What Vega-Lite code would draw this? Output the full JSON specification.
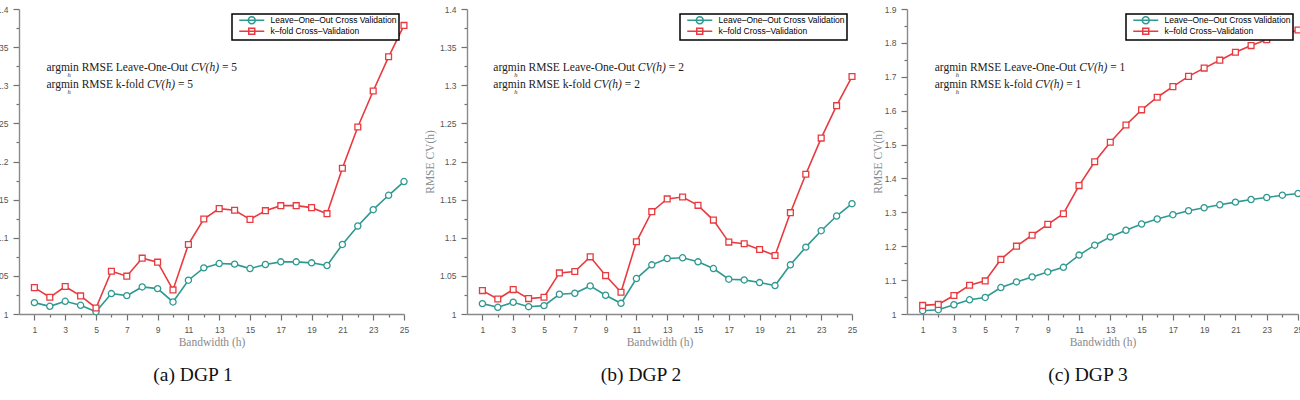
{
  "$schema": "https://vega.github.io/schema/vega-lite/v6.json",
  "padding": {"left": -24, "top": 5, "right": 0, "bottom": 0},
  "background": "white",
  "spacing": 14,
  "resolve": {
    "scale": {"x": "independent", "y": "independent", "color": "independent", "shape": "independent"},
    "axis": {"x": "independent", "y": "independent"},
    "legend": {"color": "independent", "shape": "independent"}
  },
  "datasets": {
    "cv": [
      {"panel": "a", "h": 1, "loo": 1.0149, "kfold": 1.0346},
      {"panel": "a", "h": 2, "loo": 1.0101, "kfold": 1.0219},
      {"panel": "a", "h": 3, "loo": 1.0167, "kfold": 1.036},
      {"panel": "a", "h": 4, "loo": 1.0114, "kfold": 1.0237},
      {"panel": "a", "h": 5, "loo": 1.003, "kfold": 1.0079},
      {"panel": "a", "h": 6, "loo": 1.0268, "kfold": 1.0561},
      {"panel": "a", "h": 7, "loo": 1.0241, "kfold": 1.0496},
      {"panel": "a", "h": 8, "loo": 1.0355, "kfold": 1.0732},
      {"panel": "a", "h": 9, "loo": 1.0333, "kfold": 1.068},
      {"panel": "a", "h": 10, "loo": 1.0158, "kfold": 1.0316},
      {"panel": "a", "h": 11, "loo": 1.0443, "kfold": 1.0912},
      {"panel": "a", "h": 12, "loo": 1.0605, "kfold": 1.1246},
      {"panel": "a", "h": 13, "loo": 1.0662, "kfold": 1.1382},
      {"panel": "a", "h": 14, "loo": 1.0654, "kfold": 1.136},
      {"panel": "a", "h": 15, "loo": 1.0596, "kfold": 1.1241},
      {"panel": "a", "h": 16, "loo": 1.0649, "kfold": 1.1355},
      {"panel": "a", "h": 17, "loo": 1.0684, "kfold": 1.1421},
      {"panel": "a", "h": 18, "loo": 1.0684, "kfold": 1.1421},
      {"panel": "a", "h": 19, "loo": 1.0671, "kfold": 1.1395},
      {"panel": "a", "h": 20, "loo": 1.0636, "kfold": 1.1316},
      {"panel": "a", "h": 21, "loo": 1.0912, "kfold": 1.1912},
      {"panel": "a", "h": 22, "loo": 1.1154, "kfold": 1.2452},
      {"panel": "a", "h": 23, "loo": 1.1368, "kfold": 1.2925},
      {"panel": "a", "h": 24, "loo": 1.1557, "kfold": 1.3373},
      {"panel": "a", "h": 25, "loo": 1.1737, "kfold": 1.3785},
      {"panel": "b", "h": 1, "loo": 1.0136, "kfold": 1.0307},
      {"panel": "b", "h": 2, "loo": 1.0088, "kfold": 1.0197},
      {"panel": "b", "h": 3, "loo": 1.0154, "kfold": 1.032},
      {"panel": "b", "h": 4, "loo": 1.0096, "kfold": 1.0202},
      {"panel": "b", "h": 5, "loo": 1.011, "kfold": 1.0219},
      {"panel": "b", "h": 6, "loo": 1.0259, "kfold": 1.0539},
      {"panel": "b", "h": 7, "loo": 1.0272, "kfold": 1.0557},
      {"panel": "b", "h": 8, "loo": 1.0368, "kfold": 1.075},
      {"panel": "b", "h": 9, "loo": 1.0246, "kfold": 1.0504},
      {"panel": "b", "h": 10, "loo": 1.014, "kfold": 1.0285},
      {"panel": "b", "h": 11, "loo": 1.0465, "kfold": 1.0947},
      {"panel": "b", "h": 12, "loo": 1.0645, "kfold": 1.1342},
      {"panel": "b", "h": 13, "loo": 1.0728, "kfold": 1.1509},
      {"panel": "b", "h": 14, "loo": 1.0737, "kfold": 1.1535},
      {"panel": "b", "h": 15, "loo": 1.0684, "kfold": 1.1425},
      {"panel": "b", "h": 16, "loo": 1.0596, "kfold": 1.1232},
      {"panel": "b", "h": 17, "loo": 1.0456, "kfold": 1.0943},
      {"panel": "b", "h": 18, "loo": 1.0447, "kfold": 1.0921},
      {"panel": "b", "h": 19, "loo": 1.0412, "kfold": 1.0846},
      {"panel": "b", "h": 20, "loo": 1.0373, "kfold": 1.0768},
      {"panel": "b", "h": 21, "loo": 1.0645, "kfold": 1.1329},
      {"panel": "b", "h": 22, "loo": 1.0877, "kfold": 1.1833},
      {"panel": "b", "h": 23, "loo": 1.1092, "kfold": 1.2307},
      {"panel": "b", "h": 24, "loo": 1.1285, "kfold": 1.2732},
      {"panel": "b", "h": 25, "loo": 1.1447, "kfold": 1.3114},
      {"panel": "c", "h": 1, "loo": 1.0098, "kfold": 1.0254},
      {"panel": "c", "h": 2, "loo": 1.0127, "kfold": 1.0283},
      {"panel": "c", "h": 3, "loo": 1.0273, "kfold": 1.0547},
      {"panel": "c", "h": 4, "loo": 1.042, "kfold": 1.085},
      {"panel": "c", "h": 5, "loo": 1.0488, "kfold": 1.0977},
      {"panel": "c", "h": 6, "loo": 1.0781, "kfold": 1.1611},
      {"panel": "c", "h": 7, "loo": 1.0947, "kfold": 1.2002},
      {"panel": "c", "h": 8, "loo": 1.1094, "kfold": 1.2324},
      {"panel": "c", "h": 9, "loo": 1.124, "kfold": 1.2646},
      {"panel": "c", "h": 10, "loo": 1.1377, "kfold": 1.2959},
      {"panel": "c", "h": 11, "loo": 1.1738, "kfold": 1.3789},
      {"panel": "c", "h": 12, "loo": 1.2031, "kfold": 1.4492},
      {"panel": "c", "h": 13, "loo": 1.2275, "kfold": 1.5068},
      {"panel": "c", "h": 14, "loo": 1.2471, "kfold": 1.5576},
      {"panel": "c", "h": 15, "loo": 1.2656, "kfold": 1.6025},
      {"panel": "c", "h": 16, "loo": 1.2803, "kfold": 1.6396},
      {"panel": "c", "h": 17, "loo": 1.293, "kfold": 1.6709},
      {"panel": "c", "h": 18, "loo": 1.3047, "kfold": 1.7012},
      {"panel": "c", "h": 19, "loo": 1.3135, "kfold": 1.7256},
      {"panel": "c", "h": 20, "loo": 1.3223, "kfold": 1.749},
      {"panel": "c", "h": 21, "loo": 1.3301, "kfold": 1.7725},
      {"panel": "c", "h": 22, "loo": 1.3379, "kfold": 1.792},
      {"panel": "c", "h": 23, "loo": 1.3438, "kfold": 1.8096},
      {"panel": "c", "h": 24, "loo": 1.3506, "kfold": 1.824},
      {"panel": "c", "h": 25, "loo": 1.3555, "kfold": 1.8379}
    ],
    "notes": [
      {"panel": "a", "line": 1, "h": 1.78, "rmse": 1.3224, "lead": "argmin RMSE Leave-One-Out", "tail": "= 5"},
      {"panel": "a", "line": 2, "h": 1.78, "rmse": 1.3, "lead": "argmin RMSE k-fold", "tail": "= 5"},
      {"panel": "b", "line": 1, "h": 1.71, "rmse": 1.3224, "lead": "argmin RMSE Leave-One-Out", "tail": "= 2"},
      {"panel": "b", "line": 2, "h": 1.71, "rmse": 1.3, "lead": "argmin RMSE k-fold", "tail": "= 2"},
      {"panel": "c", "line": 1, "h": 1.77, "rmse": 1.7258, "lead": "argmin RMSE Leave-One-Out", "tail": "= 1"},
      {"panel": "c", "line": 2, "h": 1.77, "rmse": 1.676, "lead": "argmin RMSE k-fold", "tail": "= 1"}
    ]
  },
  "config": {
    "view": {"stroke": null},
    "axis": {
      "grid": false,
      "domainColor": "#8a8a8a",
      "domainWidth": 1.4,
      "tickColor": "#707070",
      "tickWidth": 1.2,
      "labelColor": "#555555",
      "labelFont": "Liberation Sans",
      "labelFontSize": 8.5,
      "labelPadding": 5,
      "labelOverlap": false,
      "labelFlush": false,
      "titleFont": "Liberation Serif",
      "titleFontSize": 11.5,
      "titleFontWeight": "normal",
      "titleColor": "#8a8a8a"
    },
    "title": {
      "font": "Liberation Serif",
      "fontSize": 19.5,
      "fontWeight": "normal",
      "color": "#111111",
      "orient": "bottom",
      "anchor": "middle",
      "frame": "bounds",
      "offset": 18
    },
    "legend": {
      "orient": "top-right",
      "offset": 5,
      "title": null,
      "padding": 2,
      "rowPadding": -5.5,
      "symbolOffset": 13.5,
      "labelOffset": 14.5,
      "labelFont": "Liberation Sans",
      "labelFontSize": 8.5,
      "labelColor": "#000000",
      "labelLimit": 400,
      "strokeColor": "#000000",
      "strokeWidth": 1.5,
      "fillColor": "#ffffff",
      "symbolSize": 16,
      "symbolStrokeWidth": 1.5,
      "symbolOpacity": 1,
      "symbolFillColor": "transparent"
    }
  },
  "hconcat": [
    {
      "width": 385,
      "height": 305,
      "title": {"text": "(a) DGP 1"},
      "layer": [
        {
          "data": {"name": "cv"},
          "transform": [
            {"filter": "datum.panel === 'a'"},
            {"fold": ["loo", "kfold"], "as": ["method", "rmse"]}
          ],
          "encoding": {
            "x": {
              "field": "h", "type": "quantitative",
              "scale": {"domain": [0, 25], "nice": false, "zero": false},
              "axis": {
                "title": "Bandwidth (h)", "titlePadding": 3, "labelOverlap": false, "tickCount": 100, "format": "d",
                "values": [1,2,3,4,5,6,7,8,9,10,11,12,13,14,15,16,17,18,19,20,21,22,23,24,25],
                "labelExpr": "datum.value % 2 === 1 ? datum.label : ''",
                "tickSize": {"condition": {"test": "datum.value % 2 === 1", "value": 6}, "value": 3}
              }
            },
            "y": {
              "field": "rmse", "type": "quantitative",
              "scale": {"domain": [1, 1.4], "nice": false, "zero": false},
              "axis": {
                "title": "RMSE CV(h)", "titlePadding": 4, "format": "~g", "labelOverlap": false, "tickCount": 100,
                "values": [1,1.025,1.05,1.075,1.1,1.125,1.15,1.175,1.2,1.225,1.25,1.275,1.3,1.325,1.35,1.375,1.4],
                "labelExpr": "abs(datum.value * 20 - round(datum.value * 20)) < 0.001 ? datum.label : ''",
                "tickSize": {"condition": {"test": "abs(datum.value * 20 - round(datum.value * 20)) < 0.001", "value": 6}, "value": 3}
              }
            },
            "color": {
              "field": "method", "type": "nominal",
              "scale": {"domain": ["loo", "kfold"], "range": ["#2e9990", "#e83a3f"]},
              "legend": {"labelExpr": "datum.value === 'loo' ? 'Leave–One–Out Cross Validation' : 'k–fold Cross–Validation'"}
            }
          },
          "layer": [
            {"mark": {"type": "line", "strokeWidth": 1.6}},
            {
              "transform": [{"filter": "datum.method === 'loo'"}],
              "mark": {"type": "point", "shape": "circle", "filled": false, "fill": "#ffffff", "fillOpacity": 1, "opacity": 1, "strokeWidth": 1.3, "size": 38}
            },
            {
              "transform": [{"filter": "datum.method === 'kfold'"}],
              "mark": {"type": "point", "shape": "square", "filled": false, "fill": "#ffffff", "fillOpacity": 1, "opacity": 1, "strokeWidth": 1.3, "size": 34}
            },
            {
              "transform": [{"filter": "false"}],
              "mark": {"type": "point", "filled": false, "strokeWidth": 1.5, "size": 16},
              "encoding": {
                "shape": {
                  "field": "method", "type": "nominal",
                  "scale": {"domain": ["loo", "kfold"], "range": ["M-6.25,0L6.25,0M1.75,0C1.75,0.966,0.966,1.75,0,1.75C-0.966,1.75,-1.75,0.966,-1.75,0C-1.75,-0.966,-0.966,-1.75,0,-1.75C0.966,-1.75,1.75,-0.966,1.75,0Z", "M-6.25,0L6.25,0M-1.5,-1.5L1.5,-1.5L1.5,1.5L-1.5,1.5Z"]},
                  "legend": {"labelExpr": "datum.value === 'loo' ? 'Leave–One–Out Cross Validation' : 'k–fold Cross–Validation'"}
                }
              }
            }
          ]
        },
        {
          "data": {"name": "notes"},
          "transform": [{"filter": "datum.panel === 'a'"}],
          "encoding": {
            "x": {"field": "h", "type": "quantitative"},
            "y": {"field": "rmse", "type": "quantitative"}
          },
          "layer": [
            {"mark": {"type": "text", "align": "left", "baseline": "middle", "font": "Liberation Serif", "fontSize": 11.5, "color": "#222222"}, "encoding": {"text": {"field": "lead"}}},
            {"mark": {"type": "text", "text": "h", "align": "left", "baseline": "middle", "font": "Liberation Serif", "fontStyle": "italic", "fontSize": 6.5, "dx": 21, "dy": 7, "color": "#222222"}},
            {
              "transform": [{"filter": "datum.line === 1"}],
              "layer": [
                {"mark": {"type": "text", "text": "CV(h)", "align": "left", "baseline": "middle", "font": "Liberation Serif", "fontStyle": "italic", "fontSize": 11.5, "dx": 144.5, "color": "#222222"}},
                {"mark": {"type": "text", "align": "left", "baseline": "middle", "font": "Liberation Serif", "fontSize": 11.5, "dx": 175.5, "color": "#222222"}, "encoding": {"text": {"field": "tail"}}}
              ]
            },
            {
              "transform": [{"filter": "datum.line === 2"}],
              "layer": [
                {"mark": {"type": "text", "text": "CV(h)", "align": "left", "baseline": "middle", "font": "Liberation Serif", "fontStyle": "italic", "fontSize": 11.5, "dx": 100.5, "color": "#222222"}},
                {"mark": {"type": "text", "align": "left", "baseline": "middle", "font": "Liberation Serif", "fontSize": 11.5, "dx": 131.5, "color": "#222222"}, "encoding": {"text": {"field": "tail"}}}
              ]
            }
          ]
        }
      ]
    },
    {
      "width": 385,
      "height": 305,
      "title": {"text": "(b) DGP 2"},
      "layer": [
        {
          "data": {"name": "cv"},
          "transform": [
            {"filter": "datum.panel === 'b'"},
            {"fold": ["loo", "kfold"], "as": ["method", "rmse"]}
          ],
          "encoding": {
            "x": {
              "field": "h", "type": "quantitative",
              "scale": {"domain": [0, 25], "nice": false, "zero": false},
              "axis": {
                "title": "Bandwidth (h)", "titlePadding": 3, "labelOverlap": false, "tickCount": 100, "format": "d",
                "values": [1,2,3,4,5,6,7,8,9,10,11,12,13,14,15,16,17,18,19,20,21,22,23,24,25],
                "labelExpr": "datum.value % 2 === 1 ? datum.label : ''",
                "tickSize": {"condition": {"test": "datum.value % 2 === 1", "value": 6}, "value": 3}
              }
            },
            "y": {
              "field": "rmse", "type": "quantitative",
              "scale": {"domain": [1, 1.4], "nice": false, "zero": false},
              "axis": {
                "title": "RMSE CV(h)", "titlePadding": 4, "format": "~g", "labelOverlap": false, "tickCount": 100,
                "values": [1,1.025,1.05,1.075,1.1,1.125,1.15,1.175,1.2,1.225,1.25,1.275,1.3,1.325,1.35,1.375,1.4],
                "labelExpr": "abs(datum.value * 20 - round(datum.value * 20)) < 0.001 ? datum.label : ''",
                "tickSize": {"condition": {"test": "abs(datum.value * 20 - round(datum.value * 20)) < 0.001", "value": 6}, "value": 3}
              }
            },
            "color": {
              "field": "method", "type": "nominal",
              "scale": {"domain": ["loo", "kfold"], "range": ["#2e9990", "#e83a3f"]},
              "legend": {"labelExpr": "datum.value === 'loo' ? 'Leave–One–Out Cross Validation' : 'k–fold Cross–Validation'"}
            }
          },
          "layer": [
            {"mark": {"type": "line", "strokeWidth": 1.6}},
            {
              "transform": [{"filter": "datum.method === 'loo'"}],
              "mark": {"type": "point", "shape": "circle", "filled": false, "fill": "#ffffff", "fillOpacity": 1, "opacity": 1, "strokeWidth": 1.3, "size": 38}
            },
            {
              "transform": [{"filter": "datum.method === 'kfold'"}],
              "mark": {"type": "point", "shape": "square", "filled": false, "fill": "#ffffff", "fillOpacity": 1, "opacity": 1, "strokeWidth": 1.3, "size": 34}
            },
            {
              "transform": [{"filter": "false"}],
              "mark": {"type": "point", "filled": false, "strokeWidth": 1.5, "size": 16},
              "encoding": {
                "shape": {
                  "field": "method", "type": "nominal",
                  "scale": {"domain": ["loo", "kfold"], "range": ["M-6.25,0L6.25,0M1.75,0C1.75,0.966,0.966,1.75,0,1.75C-0.966,1.75,-1.75,0.966,-1.75,0C-1.75,-0.966,-0.966,-1.75,0,-1.75C0.966,-1.75,1.75,-0.966,1.75,0Z", "M-6.25,0L6.25,0M-1.5,-1.5L1.5,-1.5L1.5,1.5L-1.5,1.5Z"]},
                  "legend": {"labelExpr": "datum.value === 'loo' ? 'Leave–One–Out Cross Validation' : 'k–fold Cross–Validation'"}
                }
              }
            }
          ]
        },
        {
          "data": {"name": "notes"},
          "transform": [{"filter": "datum.panel === 'b'"}],
          "encoding": {
            "x": {"field": "h", "type": "quantitative"},
            "y": {"field": "rmse", "type": "quantitative"}
          },
          "layer": [
            {"mark": {"type": "text", "align": "left", "baseline": "middle", "font": "Liberation Serif", "fontSize": 11.5, "color": "#222222"}, "encoding": {"text": {"field": "lead"}}},
            {"mark": {"type": "text", "text": "h", "align": "left", "baseline": "middle", "font": "Liberation Serif", "fontStyle": "italic", "fontSize": 6.5, "dx": 21, "dy": 7, "color": "#222222"}},
            {
              "transform": [{"filter": "datum.line === 1"}],
              "layer": [
                {"mark": {"type": "text", "text": "CV(h)", "align": "left", "baseline": "middle", "font": "Liberation Serif", "fontStyle": "italic", "fontSize": 11.5, "dx": 144.5, "color": "#222222"}},
                {"mark": {"type": "text", "align": "left", "baseline": "middle", "font": "Liberation Serif", "fontSize": 11.5, "dx": 175.5, "color": "#222222"}, "encoding": {"text": {"field": "tail"}}}
              ]
            },
            {
              "transform": [{"filter": "datum.line === 2"}],
              "layer": [
                {"mark": {"type": "text", "text": "CV(h)", "align": "left", "baseline": "middle", "font": "Liberation Serif", "fontStyle": "italic", "fontSize": 11.5, "dx": 100.5, "color": "#222222"}},
                {"mark": {"type": "text", "align": "left", "baseline": "middle", "font": "Liberation Serif", "fontSize": 11.5, "dx": 131.5, "color": "#222222"}, "encoding": {"text": {"field": "tail"}}}
              ]
            }
          ]
        }
      ]
    },
    {
      "width": 391,
      "height": 305,
      "title": {"text": "(c) DGP 3"},
      "layer": [
        {
          "data": {"name": "cv"},
          "transform": [
            {"filter": "datum.panel === 'c'"},
            {"fold": ["loo", "kfold"], "as": ["method", "rmse"]}
          ],
          "encoding": {
            "x": {
              "field": "h", "type": "quantitative",
              "scale": {"domain": [0, 25], "nice": false, "zero": false},
              "axis": {
                "title": "Bandwidth (h)", "titlePadding": 3, "labelOverlap": false, "tickCount": 100, "format": "d",
                "values": [1,2,3,4,5,6,7,8,9,10,11,12,13,14,15,16,17,18,19,20,21,22,23,24,25],
                "labelExpr": "datum.value % 2 === 1 ? datum.label : ''",
                "tickSize": {"condition": {"test": "datum.value % 2 === 1", "value": 6}, "value": 3}
              }
            },
            "y": {
              "field": "rmse", "type": "quantitative",
              "scale": {"domain": [1, 1.9], "nice": false, "zero": false},
              "axis": {
                "title": "RMSE CV(h)", "titlePadding": 1, "format": "~g", "labelOverlap": false, "tickCount": 100,
                "values": [1,1.05,1.1,1.15,1.2,1.25,1.3,1.35,1.4,1.45,1.5,1.55,1.6,1.65,1.7,1.75,1.8,1.85,1.9],
                "labelExpr": "abs(datum.value * 10 - round(datum.value * 10)) < 0.001 ? datum.label : ''",
                "tickSize": {"condition": {"test": "abs(datum.value * 10 - round(datum.value * 10)) < 0.001", "value": 6}, "value": 3}
              }
            },
            "color": {
              "field": "method", "type": "nominal",
              "scale": {"domain": ["loo", "kfold"], "range": ["#2e9990", "#e83a3f"]},
              "legend": {"labelExpr": "datum.value === 'loo' ? 'Leave–One–Out Cross Validation' : 'k–fold Cross–Validation'"}
            }
          },
          "layer": [
            {"mark": {"type": "line", "strokeWidth": 1.6}},
            {
              "transform": [{"filter": "datum.method === 'loo'"}],
              "mark": {"type": "point", "shape": "circle", "filled": false, "fill": "#ffffff", "fillOpacity": 1, "opacity": 1, "strokeWidth": 1.3, "size": 38}
            },
            {
              "transform": [{"filter": "datum.method === 'kfold'"}],
              "mark": {"type": "point", "shape": "square", "filled": false, "fill": "#ffffff", "fillOpacity": 1, "opacity": 1, "strokeWidth": 1.3, "size": 34}
            },
            {
              "transform": [{"filter": "false"}],
              "mark": {"type": "point", "filled": false, "strokeWidth": 1.5, "size": 16},
              "encoding": {
                "shape": {
                  "field": "method", "type": "nominal",
                  "scale": {"domain": ["loo", "kfold"], "range": ["M-6.25,0L6.25,0M1.75,0C1.75,0.966,0.966,1.75,0,1.75C-0.966,1.75,-1.75,0.966,-1.75,0C-1.75,-0.966,-0.966,-1.75,0,-1.75C0.966,-1.75,1.75,-0.966,1.75,0Z", "M-6.25,0L6.25,0M-1.5,-1.5L1.5,-1.5L1.5,1.5L-1.5,1.5Z"]},
                  "legend": {"labelExpr": "datum.value === 'loo' ? 'Leave–One–Out Cross Validation' : 'k–fold Cross–Validation'"}
                }
              }
            }
          ]
        },
        {
          "data": {"name": "notes"},
          "transform": [{"filter": "datum.panel === 'c'"}],
          "encoding": {
            "x": {"field": "h", "type": "quantitative"},
            "y": {"field": "rmse", "type": "quantitative"}
          },
          "layer": [
            {"mark": {"type": "text", "align": "left", "baseline": "middle", "font": "Liberation Serif", "fontSize": 11.5, "color": "#222222"}, "encoding": {"text": {"field": "lead"}}},
            {"mark": {"type": "text", "text": "h", "align": "left", "baseline": "middle", "font": "Liberation Serif", "fontStyle": "italic", "fontSize": 6.5, "dx": 21, "dy": 7, "color": "#222222"}},
            {
              "transform": [{"filter": "datum.line === 1"}],
              "layer": [
                {"mark": {"type": "text", "text": "CV(h)", "align": "left", "baseline": "middle", "font": "Liberation Serif", "fontStyle": "italic", "fontSize": 11.5, "dx": 144.5, "color": "#222222"}},
                {"mark": {"type": "text", "align": "left", "baseline": "middle", "font": "Liberation Serif", "fontSize": 11.5, "dx": 175.5, "color": "#222222"}, "encoding": {"text": {"field": "tail"}}}
              ]
            },
            {
              "transform": [{"filter": "datum.line === 2"}],
              "layer": [
                {"mark": {"type": "text", "text": "CV(h)", "align": "left", "baseline": "middle", "font": "Liberation Serif", "fontStyle": "italic", "fontSize": 11.5, "dx": 100.5, "color": "#222222"}},
                {"mark": {"type": "text", "align": "left", "baseline": "middle", "font": "Liberation Serif", "fontSize": 11.5, "dx": 131.5, "color": "#222222"}, "encoding": {"text": {"field": "tail"}}}
              ]
            }
          ]
        }
      ]
    }
  ]
}
